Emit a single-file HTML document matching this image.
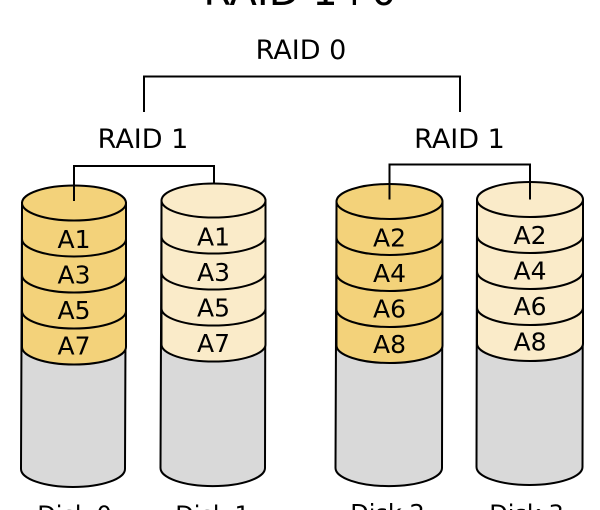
<!DOCTYPE html>
<html><head><meta charset="utf-8"><style>
html,body{margin:0;padding:0;background:#fff;}
svg{display:block;}
text{font-family:"DejaVu Sans","Liberation Sans",sans-serif;fill:#000;}
</style></head><body>
<svg width="600" height="510" viewBox="0 0 600 510" xmlns="http://www.w3.org/2000/svg">
<text x="300" y="5" font-size="40" text-anchor="middle">RAID 1+0</text>
<text x="301" y="59" font-size="27" text-anchor="middle">RAID 0</text>
<text x="143" y="148" font-size="27" text-anchor="middle">RAID 1</text>
<text x="459.5" y="148" font-size="27" text-anchor="middle">RAID 1</text>

<g fill="none" stroke="#000" stroke-width="2">
<path d="M144,112 V76.5 H460 V112"/>
</g>

<!-- Disk 0 -->
<g stroke="#000" stroke-width="2">
<path d="M22,203 L21,469 A52,18 0 0 0 125,469 L126,203 Z" fill="#d9d9d9"/>
<path d="M22,203 V347 A52,17.5 0 0 0 126,347 V203 Z" fill="#f3d27a"/>
<path d="M22,239 A52,17.5 0 0 0 126,239 M22,275 A52,17.5 0 0 0 126,275 M22,311 A52,17.5 0 0 0 126,311" fill="none"/>
<ellipse cx="74" cy="203" rx="52" ry="17.5" fill="#f3d27a"/>
</g>
<!-- Disk 1 -->
<g stroke="#000" stroke-width="2">
<path d="M161.5,200.5 L160.5,468 A52,18 0 0 0 265,468 L265.5,200.5 Z" fill="#d9d9d9"/>
<path d="M161.5,200.5 V344.5 A52,17 0 0 0 265.5,344.5 V200.5 Z" fill="#faebc9"/>
<path d="M161.5,236.5 A52,17 0 0 0 265.5,236.5 M161.5,272.5 A52,17 0 0 0 265.5,272.5 M161.5,308.5 A52,17 0 0 0 265.5,308.5" fill="none"/>
<ellipse cx="213.5" cy="200.5" rx="52" ry="17" fill="#faebc9"/>
</g>
<!-- Disk 2 -->
<g stroke="#000" stroke-width="2">
<path d="M336.5,201.5 L335.5,468 A53,18 0 0 0 442,468 L442.5,201.5 Z" fill="#d9d9d9"/>
<path d="M336.5,201.5 V345.5 A53,17.5 0 0 0 442.5,345.5 V201.5 Z" fill="#f3d27a"/>
<path d="M336.5,237.5 A53,17.5 0 0 0 442.5,237.5 M336.5,273.5 A53,17.5 0 0 0 442.5,273.5 M336.5,309.5 A53,17.5 0 0 0 442.5,309.5" fill="none"/>
<ellipse cx="389.5" cy="201.5" rx="53" ry="17.5" fill="#f3d27a"/>
</g>
<!-- Disk 3 -->
<g stroke="#000" stroke-width="2">
<path d="M477,199.5 L476.5,467 A53,18 0 0 0 582.5,467 L583,199.5 Z" fill="#d9d9d9"/>
<path d="M477,199.5 V343.5 A53,17.5 0 0 0 583,343.5 V199.5 Z" fill="#faebc9"/>
<path d="M477,235.5 A53,17.5 0 0 0 583,235.5 M477,271.5 A53,17.5 0 0 0 583,271.5 M477,307.5 A53,17.5 0 0 0 583,307.5" fill="none"/>
<ellipse cx="530" cy="199.5" rx="53" ry="17.5" fill="#faebc9"/>
</g>

<g fill="none" stroke="#000" stroke-width="2">
<path d="M74,201 V166 H214 V184"/>
<path d="M389.5,199.5 V164.5 H530 V199.5"/>
</g>

<g font-size="25" text-anchor="middle">
<text x="74" y="248">A1</text>
<text x="74" y="283.5">A3</text>
<text x="74" y="319">A5</text>
<text x="74" y="354.5">A7</text>
<text x="213.5" y="245.5">A1</text>
<text x="213.5" y="281">A3</text>
<text x="213.5" y="316.5">A5</text>
<text x="213.5" y="352">A7</text>
<text x="389.5" y="246.5">A2</text>
<text x="389.5" y="282">A4</text>
<text x="389.5" y="317.5">A6</text>
<text x="389.5" y="353">A8</text>
<text x="530" y="244">A2</text>
<text x="530" y="279.5">A4</text>
<text x="530" y="315">A6</text>
<text x="530" y="350.5">A8</text>
</g>

<g font-size="24" text-anchor="middle">
<text x="74.5" y="523">Disk 0</text>
<text x="212.5" y="523">Disk 1</text>
<text x="387.5" y="521.5">Disk 2</text>
<text x="526.5" y="522">Disk 3</text>
</g>
</svg>
</body></html>
